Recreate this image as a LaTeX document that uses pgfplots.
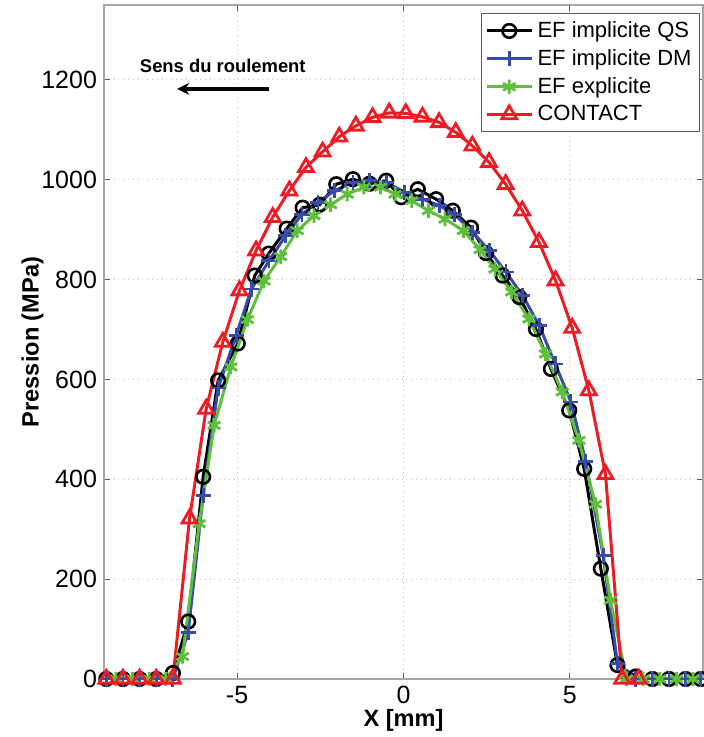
\documentclass[border=0pt]{standalone}
\usepackage{pgfplots}
\pgfplotsset{compat=1.18}
\usepackage{fontspec}
\setmainfont{Liberation Sans}
\usetikzlibrary{arrows.meta}
\definecolor{qsblack}{RGB}{0,0,0}
\definecolor{dmblue}{RGB}{55,75,170}
\definecolor{exgreen}{RGB}{95,190,60}
\definecolor{ctred}{RGB}{237,28,36}
\begin{document}
\begin{tikzpicture}
\begin{axis}[
  name=ax,
  scale only axis,
  width=299.5pt, height=337pt,
  xmin=-9, xmax=9, ymin=0, ymax=1350,
  xtick={-5,0,5}, ytick={0,200,...,1200},
  /pgf/number format/assume math mode=true,
  /pgf/number format/1000 sep={},
  ticklabel style={font=\fontsize{12.5}{14}\selectfont},
  scaled y ticks=false,
  tick align=inside,
  major tick length=3pt,
  tick style={gray!70!black, line width=0.6pt},
  axis line style={gray!70, line width=1pt},
  grid=major,
  major grid style={dotted, gray!50, line width=0.5pt},
  xlabel={\bfseries X [mm]},
  ylabel={\bfseries Pression (MPa)},
  label style={font=\fontsize{11.8}{14}\selectfont\bfseries},
  xlabel style={yshift=4pt},
  ylabel style={yshift=-8pt},
  legend style={at={(rel axis cs:0.995,0.988)}, anchor=north east,
    draw=gray!70!black, fill=white, font=\fontsize{11}{13}\selectfont,
    row sep=0.5pt, inner sep=2pt},
  legend cell align=left,
  legend image code/.code={
    \draw[mark repeat=2,mark phase=2] plot coordinates {(0cm,0cm) (0.4cm,0cm) (0.8cm,0cm)};
  },
]
\addplot[qsblack, line width=1.5pt, mark=o, mark size=3.4pt, mark options={line width=1.3pt}] coordinates {
(-8.93,0) (-8.43,0) (-7.93,0) (-7.43,0) (-6.93,12) (-6.47,115) (-6.02,405) (-5.57,598)
(-4.98,672) (-4.47,808) (-4.05,852) (-3.51,902) (-3.03,944) (-2.52,950) (-2.02,991)
(-1.52,1001) (-1.02,992) (-0.52,998) (-0.07,965) (0.43,981) (0.98,961) (1.48,938)
(2.03,904) (2.48,853) (2.98,808) (3.48,765) (3.98,701) (4.43,621) (4.98,538) (5.43,421)
(5.93,221) (6.43,28) (6.98,5) (7.48,0) (7.98,0) (8.48,0) (8.93,0)
};
\addlegendentry{EF implicite QS}
\addplot[dmblue, line width=1.5pt, mark=+, mark size=3.8pt, mark options={line width=1.4pt}] coordinates {
(-8.93,0) (-8.43,0) (-7.93,0) (-7.43,0) (-6.93,0) (-6.47,93) (-6.02,368) (-5.57,583)
(-5.03,688) (-4.57,781) (-4.04,838) (-3.54,888) (-3.05,931) (-2.57,955) (-2.07,978)
(-1.52,995) (-1.02,998) (-0.52,995) (0.03,975) (0.58,961) (1.08,948) (1.53,931)
(2.08,895) (2.58,858) (3.08,815) (3.58,768) (4.08,708) (4.56,631) (5.03,555) (5.48,435)
(6.0,248) (6.43,31) (6.98,0) (7.48,0) (7.98,0) (8.48,0) (8.93,0)
};
\addlegendentry{EF implicite DM}
\addplot[exgreen, line width=1.5pt, mark=asterisk, mark size=3.6pt, mark options={line width=1.4pt}] coordinates {
(-8.64,0) (-8.14,0) (-7.64,0) (-7.14,0) (-6.64,45) (-6.14,311) (-5.69,508) (-5.19,625)
(-4.69,720) (-4.19,797) (-3.69,846) (-3.19,898) (-2.69,928) (-2.19,950) (-1.69,971)
(-1.19,985) (-0.69,985) (-0.25,971) (0.25,958) (0.75,938) (1.25,921) (1.8,898)
(2.3,860) (2.75,821) (3.25,775) (3.77,721) (4.27,651) (4.77,575) (5.27,478) (5.77,350)
(6.22,158) (6.7,0) (7.2,0) (7.7,0) (8.2,0) (8.7,0)
};
\addlegendentry{EF explicite}
\addplot[ctred, line width=1.5pt, mark=triangle, mark size=4.3pt, mark options={line width=1.4pt}] coordinates {
(-8.93,0) (-8.43,0) (-7.93,0) (-7.43,0) (-6.93,0) (-6.43,321) (-5.93,541) (-5.43,675)
(-4.93,778) (-4.43,858) (-3.93,925) (-3.43,978) (-2.93,1025) (-2.43,1056) (-1.93,1086)
(-1.43,1108) (-0.93,1125) (-0.43,1134) (0.07,1133) (0.57,1126) (1.07,1115) (1.57,1095)
(2.07,1068) (2.57,1035) (3.07,991) (3.57,938) (4.07,875) (4.57,798) (5.07,703)
(5.57,578) (6.07,410) (6.57,0) (7.07,0)
};
\addlegendentry{CONTACT}
\node[font=\fontsize{9.2}{11}\selectfont\bfseries] at (axis cs:-5.43,1228) {Sens du roulement};
\draw[-{Stealth[length=6pt,width=6pt]}, line width=2pt] (axis cs:-4.05,1182) -- (axis cs:-6.8,1182);
\end{axis}
\pgfresetboundingbox
\path[use as bounding box] ([xshift=-52pt,yshift=-29pt]ax.south west) rectangle ([xshift=0.5pt,yshift=2.5pt]ax.north east);
\end{tikzpicture}
\end{document}
